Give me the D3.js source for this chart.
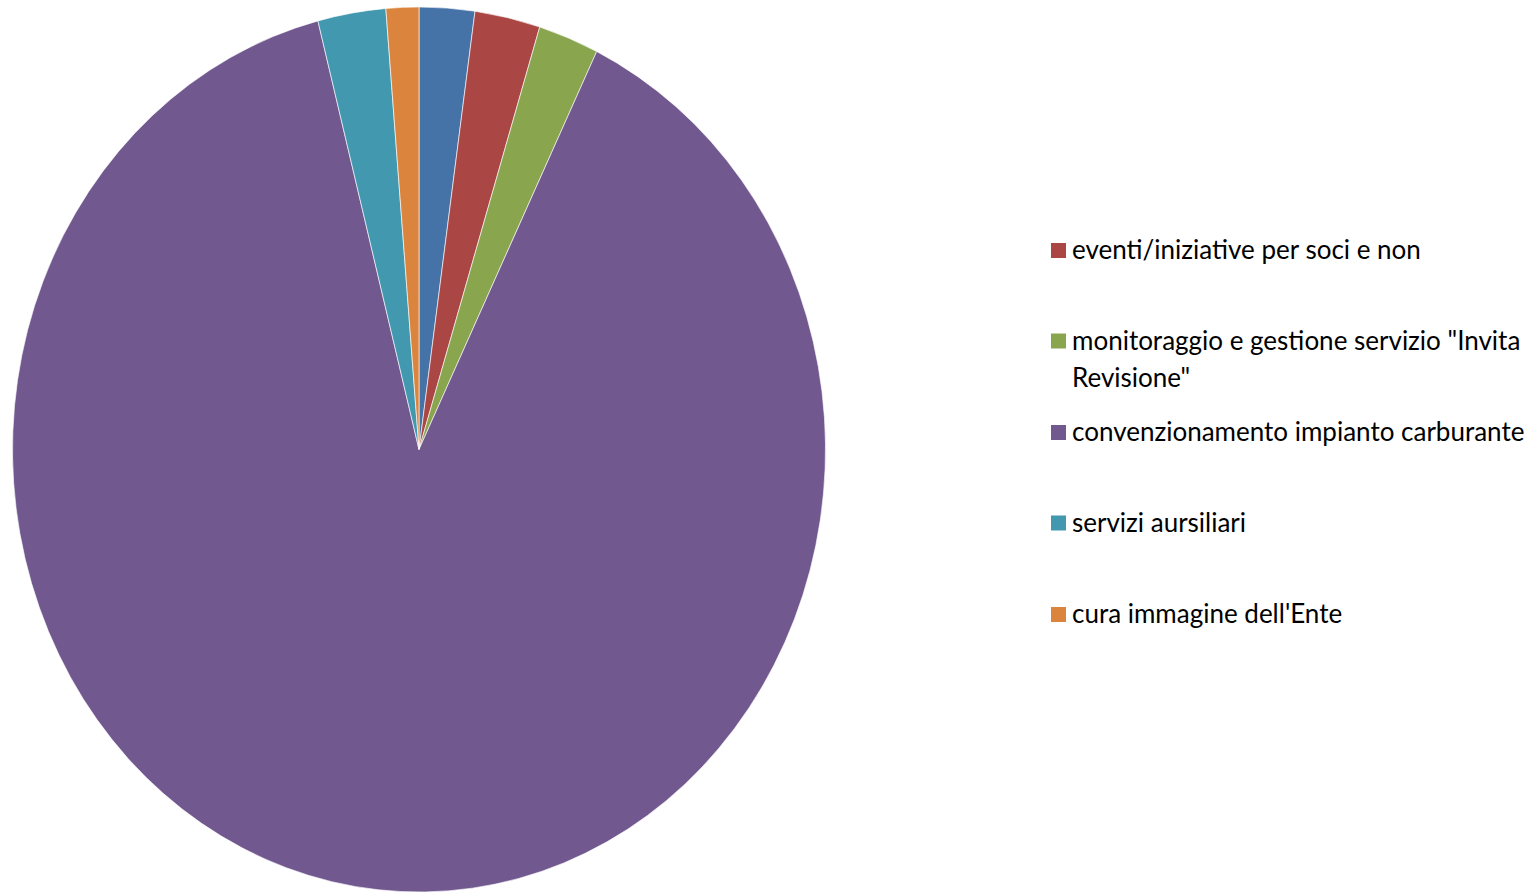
<!DOCTYPE html>
<html>
<head>
<meta charset="utf-8">
<script src="https://cdn.jsdelivr.net/npm/d3@7"></script>
<style>
  body { margin: 0; background: #fff; }
  svg { display: block; }
</style>
</head>
<body>
<div id="chart"></div>
<script>
// data (share of total, %)
var categories = [
  "attività istituzionale",
  "eventi/iniziative per soci e non",
  "monitoraggio e gestione servizio \"Invita Revisione\"",
  "convenzionamento impianto carburante",
  "servizi aursiliari",
  "cura immagine dell'Ente"
];
var values = [2.2, 2.6, 2.4, 88.8, 2.7, 1.3];
var colors = ["#4572A7", "#AA4643", "#89A54E", "#71588F", "#4198AF", "#DB843D"];
// legend only shows entries from the second one on
var legendItems = [1, 2, 3, 4, 5];

var width = 1533, height = 893;
var cx = 419, cy = 449.5, rx = 406.5, ry = 442.5;

var svg = d3.select("#chart").append("svg")
  .attr("width", width)
  .attr("height", height);

var pie = d3.pie().sort(null).value(function(d){ return d; });
var arc = d3.arc().innerRadius(0).outerRadius(rx);

var color = d3.scaleOrdinal().domain(d3.range(values.length)).range(colors);

// pie is slightly stretched vertically in the picture
var g = svg.append("g")
  .attr("transform", "translate(" + cx + "," + cy + ") scale(1," + (ry / rx) + ")");

g.selectAll("path")
  .data(pie(values))
  .enter().append("path")
  .attr("d", arc)
  .attr("fill", function(d, i){ return color(i); })
  .attr("stroke", "#fff")
  .attr("stroke-width", 0.6);

// legend
var legendX = 1051, textX = 1072, maxW = 460;
var rowY = [250.5, 341, 432.5, 523, 614.5];

var legend = svg.append("g").attr("font-family", "Lato, 'Open Sans', sans-serif")
  .attr("font-size", 26).attr("fill", "#000");

legendItems.forEach(function(idx, k){
  var y = rowY[k];
  legend.append("rect")
    .attr("x", legendX).attr("y", y - 7.5)
    .attr("width", 15).attr("height", 15)
    .attr("fill", color(idx));

  // simple word wrap
  var words = categories[idx].split(" ");
  var t = legend.append("text").attr("x", textX).attr("y", y + 8.5);
  var line = [], tspan = t.append("tspan").attr("x", textX).attr("dy", 0);
  words.forEach(function(w){
    line.push(w);
    tspan.text(line.join(" "));
    if (tspan.node().getComputedTextLength() > maxW && line.length > 1) {
      line.pop();
      tspan.text(line.join(" "));
      line = [w];
      tspan = t.append("tspan").attr("x", textX).attr("dy", 37.5).text(w);
    }
  });
});
</script>
</body>
</html>
